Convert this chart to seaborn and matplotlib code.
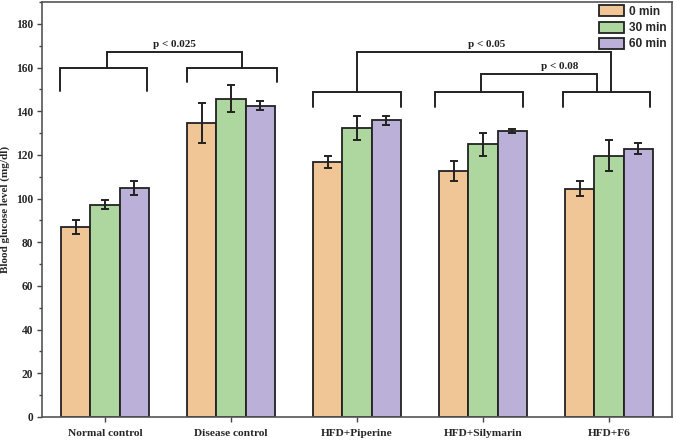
import matplotlib
matplotlib.use("Agg")
import matplotlib.pyplot as plt
import seaborn as sns
import pandas as pd
import numpy as np
from matplotlib.ticker import MultipleLocator

groups = ["Normal control", "Disease control", "HFD+Piperine", "HFD+Silymarin", "HFD+F6"]
times = ["0 min", "30 min", "60 min"]
vals_0 = [86.8, 134.6, 116.8, 112.8, 104.5]
vals_30 = [97.2, 145.8, 132.4, 124.8, 119.6]
vals_60 = [105.0, 142.5, 135.8, 130.8, 122.9]
err_0 = [3.2, 9.3, 2.8, 4.6, 3.5]
err_30 = [2.2, 6.3, 5.5, 5.3, 7.1]
err_60 = [3.2, 2.1, 2.2, 1.0, 2.6]
colors = ["#F0C696", "#AED7A0", "#BBB0D8"]

# significance brackets: (left leg x, right leg x, bar y, leg bottom y)
brackets = [
    (-0.354, 0.333, 160.0, 149.4),
    (0.647, 1.362, 160.0, 153.5),
    (1.649, 2.349, 149.0, 141.7),
    (2.618, 3.318, 149.0, 141.7),
    (3.632, 4.325, 149.0, 142.0),
]
# connectors: (x1, x2, y_top, y_bottom_left, y_bottom_right)
connectors = [
    (0.016, 1.087, 167.0, 160.0, 160.0),
    (1.998, 4.017, 167.0, 149.0, 149.0),
    (2.985, 3.906, 157.0, 149.0, 149.0),
]
ptexts = [("p < 0.025", 0.554, 168.6), ("p < 0.05", 3.03, 168.6), ("p < 0.08", 3.61, 158.4)]

rows = []
for g, a, b, c in zip(groups, vals_0, vals_30, vals_60):
    rows += [(g, times[0], a), (g, times[1], b), (g, times[2], c)]
df = pd.DataFrame(rows, columns=["group", "time", "value"])

sns.set_style("ticks")
fig = plt.figure(figsize=(6.76, 4.40), dpi=100)
ax = fig.add_axes([0.0621, 0.0523, 0.9320, 0.9432])

sns.barplot(data=df, x="group", y="value", hue="time", order=groups, hue_order=times,
            palette=colors, width=0.7, errorbar=None, edgecolor="#222222",
            linewidth=1.3, saturation=1, ax=ax)

errs = [err_0, err_30, err_60]
for cont, e in zip(ax.containers, errs):
    xs = [p.get_x() + p.get_width() / 2 for p in cont.patches]
    hs = [p.get_height() for p in cont.patches]
    ax.errorbar(xs, hs, yerr=e, fmt="none", ecolor="#222222", elinewidth=1.4,
                capsize=3.2, capthick=1.4, zorder=5)

lc = "#222222"
lw = 1.4
for xl, xr, yb, yl in brackets:
    ax.plot([xl, xl, xr, xr], [yl, yb, yb, yl], color=lc, lw=lw, solid_joinstyle="miter")
for x1, x2, yt, y1, y2 in connectors:
    ax.plot([x1, x1, x2, x2], [y1, yt, yt, y2], color=lc, lw=lw, solid_joinstyle="miter")
for t, x, y in ptexts:
    ax.text(x, y, t, ha="center", va="bottom", fontsize=8, fontweight="bold",
            family="Liberation Serif", color="#222222")

ax.set_xlim(-0.5, 4.5)
ax.set_ylim(0, 190)
ax.yaxis.set_major_locator(MultipleLocator(20))
ax.yaxis.set_minor_locator(MultipleLocator(10))
ax.set_yticks(np.arange(0, 181, 20))
ax.set_xlabel("")
ax.set_ylabel("Blood glucose level (mg/dl)", fontsize=8, fontweight="bold",
              family="Liberation Serif", labelpad=4)
for lab in ax.get_yticklabels():
    lab.set_fontfamily("Liberation Serif")
    lab.set_fontweight("bold")
    lab.set_fontsize(8.3)
for lab in ax.get_xticklabels():
    lab.set_fontfamily("Liberation Serif")
    lab.set_fontweight("bold")
    lab.set_fontsize(8.2)
ax.tick_params(axis="both", which="major", direction="out", length=3.5, width=1.0, color="#444444", pad=3)
ax.tick_params(axis="y", which="minor", direction="out", length=2.2, width=1.0, color="#444444")
ax.tick_params(axis="x", pad=5)
for s in ax.spines.values():
    s.set_visible(True)
    s.set_color("#555555")
    s.set_linewidth(1.2)

leg = ax.legend(loc="upper right", frameon=False, fontsize=8.6, handlelength=2.1,
                handleheight=1.05, labelspacing=0.3, handletextpad=0.35,
                borderaxespad=0.3, bbox_to_anchor=(1.004, 1.012))
for t in leg.get_texts():
    t.set_fontfamily("Liberation Sans")
    t.set_fontweight("bold")

fig.savefig("out.png", dpi=100)
